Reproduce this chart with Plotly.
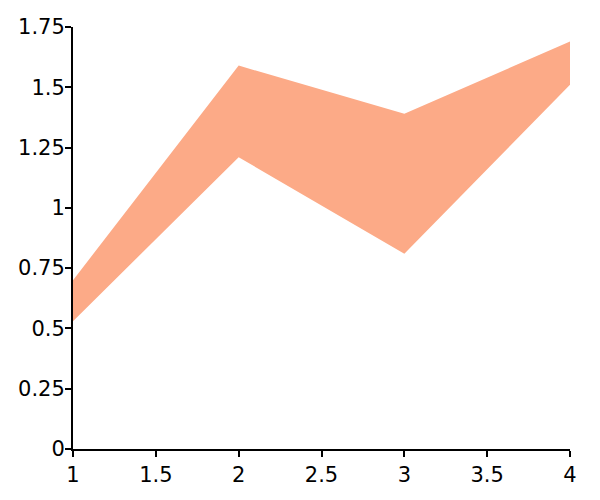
import plotly.graph_objects as go

x = [1, 2, 3, 4]
upper = [0.70, 1.59, 1.39, 1.69]
lower = [0.53, 1.21, 0.81, 1.51]
x_ticks = [1, 1.5, 2, 2.5, 3, 3.5, 4]
x_labels = ["1", "1.5", "2", "2.5", "3", "3.5", "4"]
y_ticks = [0, 0.25, 0.5, 0.75, 1, 1.25, 1.5, 1.75]
y_labels = ["0", "0.25", "0.5", "0.75", "1", "1.25", "1.5", "1.75"]

fill_color = "rgb(252,170,135)"

fig = go.Figure()
fig.add_trace(go.Scatter(x=x, y=lower, mode="lines", line=dict(width=0, color=fill_color),
                         showlegend=False, hoverinfo="skip"))
fig.add_trace(go.Scatter(x=x, y=upper, mode="lines", line=dict(width=0, color=fill_color),
                         fill="tonexty", fillcolor=fill_color, showlegend=False))

axis_common = dict(showgrid=False, zeroline=False, showline=True, linecolor="black", linewidth=2,
                   ticks="outside", ticklen=6, tickwidth=2, tickcolor="black", automargin=False,
                   tickfont=dict(family="DejaVu Sans, Verdana, sans-serif", size=21, color="black"))

fig.update_layout(
    width=600, height=500,
    margin=dict(l=65, r=38, t=19, b=59),
    paper_bgcolor="white", plot_bgcolor="white",
    xaxis=dict(range=[1, 4], tickvals=x_ticks, ticktext=x_labels, **axis_common),
    yaxis=dict(range=[0, 1.75], tickvals=y_ticks, ticktext=y_labels, ticklabelstandoff=-4,
               **axis_common),
)

fig.write_html("out.html")
